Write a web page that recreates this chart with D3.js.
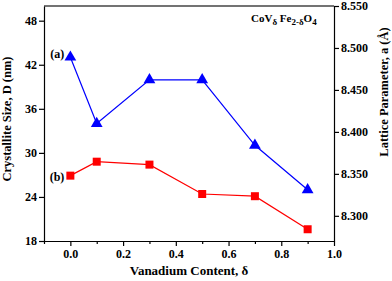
<!DOCTYPE html>
<html>
<head>
<meta charset="utf-8">
<script src="https://cdn.jsdelivr.net/npm/d3@7"></script>
</head>
<body style="margin:0;background:#fff">
<div id="chart"></div>
<script>
// data
const vContent = [0.0, 0.1, 0.3, 0.5, 0.7, 0.9];
const latticeA = [8.489, 8.410, 8.462, 8.462, 8.384, 8.331];   // (a) blue, right axis
const crystalD = [26.9, 28.8, 28.4, 24.4, 24.1, 19.6];         // (b) red, left axis
const xTicks = [0.0, 0.2, 0.4, 0.6, 0.8, 1.0];
const xMinor = [-0.1, 0.1, 0.3, 0.5, 0.7, 0.9];
const leftTicks = [18, 24, 30, 36, 42, 48];
const rightTicks = [8.300, 8.350, 8.400, 8.450, 8.500, 8.550];

const FONT = '"Liberation Serif", "Times New Roman", "DejaVu Serif", serif';

const W = 392, H = 281;
const margin = { top: 6, right: 58, bottom: 40, left: 44 };
const width = W - margin.left - margin.right;
const height = H - margin.top - margin.bottom;

const x = d3.scaleLinear().domain([-0.1, 1.0]).range([0, width]);
const yL = d3.scaleLinear().domain([18, 50]).range([height, 0]);
const yR = d3.scaleLinear().domain([8.27, 8.55]).range([height, 0]);

const svg = d3.select('#chart').append('svg')
    .attr('width', W)
    .attr('height', H);
const g = svg.append('g')
    .attr('transform', 'translate(' + margin.left + ',' + margin.top + ')');

// top frame line
g.append('line')
    .attr('x1', 0).attr('x2', width).attr('y1', 0).attr('y2', 0)
    .attr('stroke', '#444').attr('stroke-width', 1.5);

// axes
g.append('g')
    .attr('class', 'axis')
    .attr('transform', 'translate(0,' + height + ')')
    .call(d3.axisBottom(x).tickValues(xMinor).tickSize(3).tickSizeOuter(0).tickFormat(''));
g.append('g')
    .attr('class', 'axis')
    .attr('transform', 'translate(0,' + height + ')')
    .call(d3.axisBottom(x).tickValues(xTicks).tickSize(5).tickSizeOuter(0).tickPadding(3).tickFormat(d3.format('.1f')));

g.append('g')
    .attr('class', 'axis')
    .call(d3.axisLeft(yL).tickValues(leftTicks).tickSize(5).tickSizeOuter(0).tickPadding(2));

g.append('g')
    .attr('class', 'axis')
    .attr('transform', 'translate(' + width + ',0)')
    .call(d3.axisRight(yR).tickValues(rightTicks).tickSize(5).tickSizeOuter(0).tickPadding(2).tickFormat(d3.format('.3f')));

svg.selectAll('.axis path, .axis line')
    .attr('stroke', '#000').attr('stroke-width', 1.2);
svg.selectAll('.axis').attr('font-family', null).attr('font-size', null);
svg.selectAll('.axis text')
    .style('font-family', FONT).style('font-weight', 'bold')
    .style('font-size', '12px').attr('fill', '#000');

// axis titles
function title(sel, size) {
  return sel.style('font-family', FONT).style('font-weight', 'bold').style('font-size', size);
}

svg.append('text')
    .attr('x', margin.left + width / 2)
    .attr('y', 275)
    .attr('text-anchor', 'middle')
    .call(title, '13px')
    .text('Vanadium Content, δ');

svg.append('text')
    .attr('transform', 'translate(11,' + 119 + ') rotate(-90)')
    .attr('text-anchor', 'middle')
    .call(title, '12.5px')
    .text('Crystallite Size, D (nm)');

svg.append('text')
    .attr('transform', 'translate(388,' + 92 + ') rotate(-90)')
    .attr('text-anchor', 'middle')
    .call(title, '12.5px')
    .text('Lattice Parameter, a (Å)');

// lines
const lineA = d3.line().x((d, i) => x(vContent[i])).y(d => yR(d));
const lineD = d3.line().x((d, i) => x(vContent[i])).y(d => yL(d));

g.append('path').datum(latticeA)
    .attr('d', lineA).attr('fill', 'none').attr('stroke', '#0000ff').attr('stroke-width', 1.2);
g.append('path').datum(crystalD)
    .attr('d', lineD).attr('fill', 'none').attr('stroke', '#ff0000').attr('stroke-width', 1.2);

// markers
g.selectAll('path.tri').data(latticeA).enter().append('path')
    .attr('class', 'tri')
    .attr('d', d3.symbol().type(d3.symbolTriangle).size(60))
    .attr('transform', (d, i) => 'translate(' + x(vContent[i]) + ',' + yR(d) + ')')
    .attr('fill', '#0000ff');

g.selectAll('rect.sq').data(crystalD).enter().append('rect')
    .attr('class', 'sq')
    .attr('x', (d, i) => x(vContent[i]) - 4)
    .attr('y', d => yL(d) - 4)
    .attr('width', 8).attr('height', 8)
    .attr('fill', '#ff0000');

// labels
g.append('text')
    .attr('x', x(0) - 6).attr('y', yR(latticeA[0]) + 1)
    .attr('text-anchor', 'end')
    .call(title, '12px')
    .text('(a)');
g.append('text')
    .attr('x', x(0) - 6).attr('y', yL(crystalD[0]) + 5)
    .attr('text-anchor', 'end')
    .call(title, '12px')
    .text('(b)');

// formula
const f = svg.append('text')
    .attr('x', 251).attr('y', 22)
    .call(title, '11px');
f.append('tspan').text('CoV');
f.append('tspan').attr('dy', 3).style('font-size', '9px').text('δ');
f.append('tspan').attr('dy', -3).text(' Fe');
f.append('tspan').attr('dy', 3).style('font-size', '9px').text('2-δ');
f.append('tspan').attr('dy', -3).text('O');
f.append('tspan').attr('dy', 3).style('font-size', '9px').text('4');
</script>
</body>
</html>
